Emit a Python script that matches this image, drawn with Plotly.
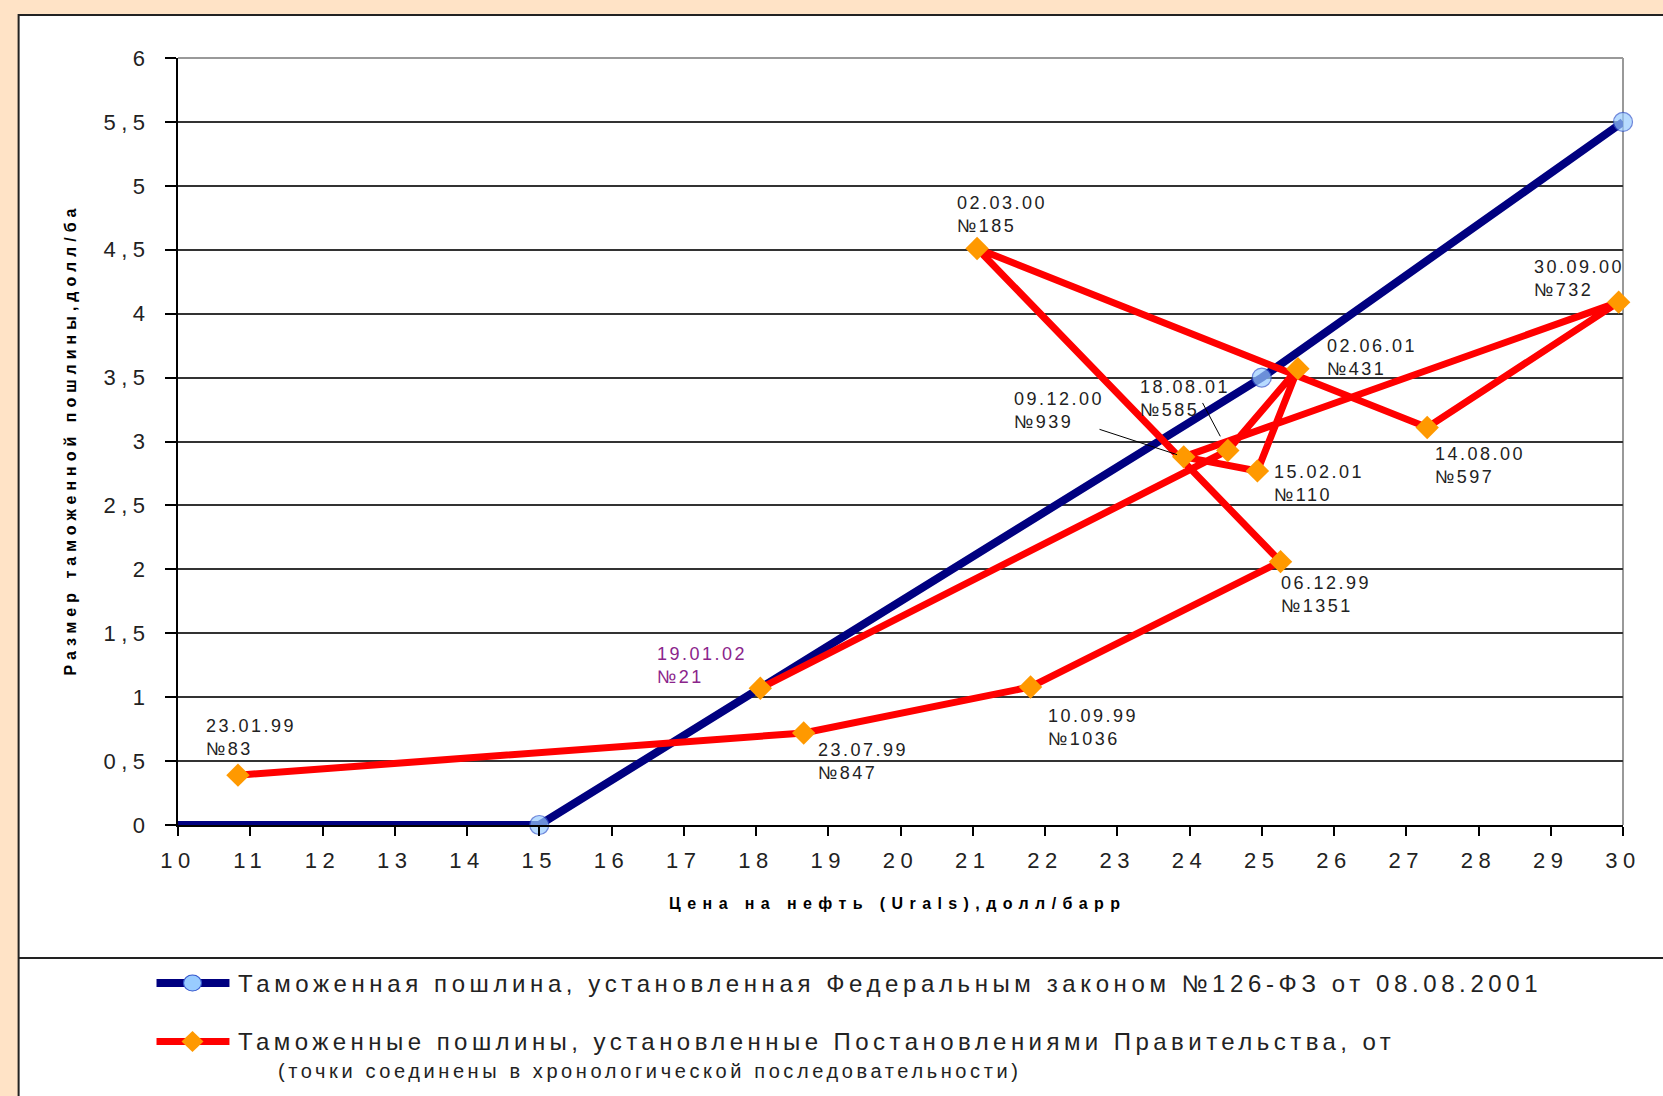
import plotly.graph_objects as go

# Canvas and plot-area geometry (pixels)
W, H = 1663, 1096
L, R, T, B = 177.5, 39.5, 58, 271

# Duty set by Federal law No.126-FZ (price -> duty)
law_price = [10, 15, 25, 30]
law_duty = [0, 0, 3.5, 5.5]

# Duties set by Government decrees, in chronological order
decree_dates = ["23.01.99", "23.07.99", "10.09.99", "06.12.99", "02.03.00", "14.08.00",
                "30.09.00", "09.12.00", "15.02.01", "02.06.01", "18.08.01", "19.01.02"]
decree_numbers = ["№83", "№847", "№1036", "№1351", "№185", "№597",
                  "№732", "№939", "№110", "№431", "№585", "№21"]
decree_price = [10.83, 18.66, 21.80, 25.26, 21.06, 27.29, 29.94, 23.92, 24.94, 25.50, 24.53, 18.06]
decree_duty = [0.39, 0.72, 1.08, 2.06, 4.51, 3.11, 4.09, 2.88, 2.77, 3.57, 2.93, 1.07]

x_tick_values = list(range(10, 31))
y_tick_values = [0, 0.5, 1, 1.5, 2, 2.5, 3, 3.5, 4, 4.5, 5, 5.5, 6]
y_tick_labels = ["0", "0,5", "1", "1,5", "2", "2,5", "3", "3,5", "4", "4,5", "5", "5,5", "6"]

x_title = "Цена на нефть (Urals),долл/барр"
y_title = "Размер таможенной пошлины,долл/ба"
legend_law = "Таможенная пошлина, установленная Федеральным законом №126-ФЗ от 08.08.2001"
legend_decree = "Таможенные пошлины, установленные Постановлениями Правительства, от"
legend_note = "(точки соединены в хронологической последовательности)"

FONT = "Liberation Sans"
TEXT = "#222222"
NAVY = "#000080"
RED = "#FF0000"
ORANGE = "#FF9900"
LIGHTBLUE = "#99CCFF"

# label placement relative to each decree point: (dx, dy) in px, left edge / vertical middle
label_offsets = [(-34, -38), (12, 29), (15, 41), (-1.5, 32.5), (-22, -34), (5.6, 38),
                 (-86.6, -24), (-172, -46), (14.4, 12.3), (27.5, -11.5), (-89.4, -51.5), (-105.6, -23)]
label_colors = [TEXT] * 11 + ["#8B248B"]


def spaced(text, px):
    return f'<span style="letter-spacing:{px}px">{text}</span>'


def pxx(x):
    return (x - L) / (W - L - R)


def pxy(y):
    return (H - B - y) / (H - T - B)


fig = go.Figure()

fig.add_trace(go.Scatter(
    x=law_price, y=law_duty, mode="lines+markers", name=legend_law,
    line=dict(color=NAVY, width=8),
    marker=dict(symbol="circle", size=[0, 19, 19, 19], color=LIGHTBLUE,
                line=dict(color="#3355CC", width=1.2)),
    cliponaxis=False, showlegend=False,
))

fig.add_trace(go.Scatter(
    x=decree_price, y=decree_duty, mode="lines+markers", name=legend_decree,
    line=dict(color=RED, width=7),
    marker=dict(symbol="diamond", size=18, color=ORANGE, line=dict(width=0)),
    cliponaxis=False, showlegend=False,
))

annotations = []
for i in range(len(decree_dates)):
    dx, dy = label_offsets[i]
    annotations.append(dict(
        x=decree_price[i], y=decree_duty[i], xref="x", yref="y",
        text=spaced(decree_dates[i], 2.5) + "<br>" + spaced(decree_numbers[i], 2.5),
        showarrow=False, xanchor="left", yanchor="middle", align="left",
        xshift=dx, yshift=-dy,
        font=dict(family=FONT, size=18, color=label_colors[i]),
    ))

# leader lines for the crowded labels
for idx, ax, ay, stand in [(7, -85.7, -28, 7), (10, -26, -49, 16)]:
    annotations.append(dict(
        x=decree_price[idx], y=decree_duty[idx], xref="x", yref="y", text="",
        showarrow=True, arrowhead=0, arrowwidth=1, arrowcolor="#000000",
        ax=ax, ay=ay, standoff=stand,
    ))

# axis titles
annotations.append(dict(
    x=pxx(897), y=pxy(903.6), xref="paper", yref="paper", showarrow=False,
    text="<b>" + spaced(x_title, 6.4) + "</b>", xanchor="center", yanchor="middle",
    font=dict(family=FONT, size=16, color="#000000"),
))
annotations.append(dict(
    x=pxx(69), y=pxy(440), xref="paper", yref="paper", showarrow=False,
    text="<b>" + spaced(y_title, 5.0) + "</b>", textangle=-90,
    xanchor="center", yanchor="middle",
    font=dict(family=FONT, size=16, color="#000000"),
))

# legend texts
annotations.append(dict(
    x=pxx(235.5), y=pxy(983), xref="paper", yref="paper", showarrow=False,
    text=spaced(legend_law, 4.6), xanchor="left", yanchor="middle",
    font=dict(family=FONT, size=24, color=TEXT),
))
annotations.append(dict(
    x=pxx(235.5), y=pxy(1041.5), xref="paper", yref="paper", showarrow=False,
    text=spaced(legend_decree, 4.45), xanchor="left", yanchor="middle",
    font=dict(family=FONT, size=24, color=TEXT),
))
annotations.append(dict(
    x=pxx(276), y=pxy(1071), xref="paper", yref="paper", showarrow=False,
    text=spaced(legend_note, 3.6), xanchor="left", yanchor="middle",
    font=dict(family=FONT, size=20, color=TEXT),
))

shapes = [
    # white chart frame on the peach page
    dict(type="rect", xref="paper", yref="paper", x0=pxx(18), y0=pxy(15), x1=pxx(W + 30), y1=pxy(H + 30),
         fillcolor="white", line=dict(color="#222222", width=2), layer="below"),
    # separator between plot and legend
    dict(type="line", xref="paper", yref="paper", x0=pxx(18), x1=pxx(W + 30), y0=pxy(958), y1=pxy(958),
         line=dict(color="#222222", width=2), layer="below"),
    # right border of plot area
    dict(type="line", xref="paper", yref="paper", x0=1, x1=1, y0=0, y1=1,
         line=dict(color="#999999", width=2), layer="below"),
    # top border of plot area
    dict(type="line", xref="paper", yref="paper", x0=0, x1=1, y0=1, y1=1,
         line=dict(color="#999999", width=2), layer="above"),
    # legend sample lines
    dict(type="line", xref="paper", yref="paper", x0=pxx(156), x1=pxx(229), y0=pxy(983), y1=pxy(983),
         line=dict(color=NAVY, width=8), layer="above"),
    dict(type="line", xref="paper", yref="paper", x0=pxx(156), x1=pxx(229), y0=pxy(1041.5), y1=pxy(1041.5),
         line=dict(color=RED, width=7), layer="above"),
    # legend sample markers
    dict(type="circle", xref="paper", yref="paper", x0=pxx(183), x1=pxx(201), y0=pxy(975), y1=pxy(991),
         fillcolor=LIGHTBLUE, line=dict(color="#3355CC", width=1.2), layer="above"),
    dict(type="path", xref="paper", yref="paper",
         path=(f"M {pxx(181)} {pxy(1041.5)} L {pxx(192)} {pxy(1031)} "
               f"L {pxx(203)} {pxy(1041.5)} L {pxx(192)} {pxy(1052)} Z"),
         fillcolor=ORANGE, line=dict(width=0), layer="above"),
]

fig.update_layout(
    width=W, height=H,
    margin=dict(l=L, r=R, t=T, b=B, autoexpand=False),
    paper_bgcolor="#FFE3C6",
    plot_bgcolor="rgba(0,0,0,0)",
    showlegend=False,
    font=dict(family=FONT, color=TEXT),
    xaxis=dict(
        range=[10, 30], tickmode="array", tickvals=x_tick_values,
        ticktext=[spaced(v, 5.5) for v in x_tick_values],
        ticks="outside", ticklen=9, tickwidth=1.5, tickcolor="#000000",
        showline=True, linecolor="#000000", linewidth=2,
        showgrid=False, zeroline=False, ticklabelstandoff=6,
        tickfont=dict(family=FONT, size=22, color=TEXT), fixedrange=True,
    ),
    yaxis=dict(
        range=[0, 6], tickmode="array", tickvals=y_tick_values,
        ticktext=[spaced(v, 5.5) for v in y_tick_labels],
        ticks="outside", ticklen=11, tickwidth=1.5, tickcolor="#000000",
        showline=True, linecolor="#000000", linewidth=2,
        showgrid=True, gridcolor="#333333", gridwidth=1.5, zeroline=False,
        ticklabelstandoff=10,
        tickfont=dict(family=FONT, size=22, color=TEXT), fixedrange=True,
    ),
    annotations=annotations,
    shapes=shapes,
)

fig.write_html("out.html", config={"displayModeBar": False})
